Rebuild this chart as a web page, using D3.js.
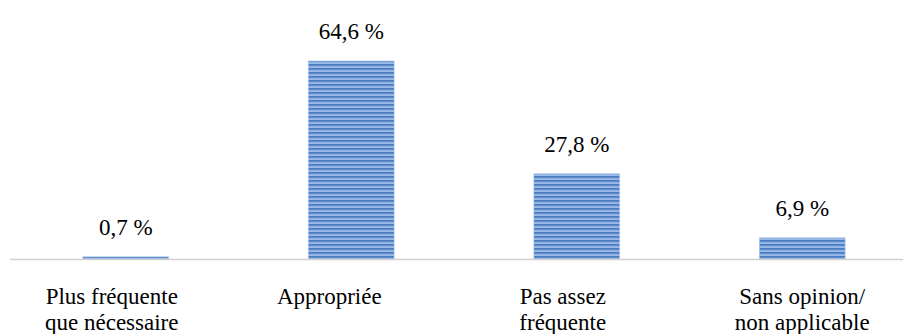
<!DOCTYPE html>
<html>
<head>
    <meta charset="utf-8">
    <style>
        body { margin: 0; background: white; }
    </style>
    <script src="https://d3js.org/d3.v7.min.js"></script>
</head>
<body>
<svg id="chart" width="903" height="334"></svg>
<script>
    // data
    var categories = ["Plus fréquente|que nécessaire", "Appropriée", "Pas assez|fréquente", "Sans opinion/|non applicable"];
    var values = [0.7, 64.6, 27.8, 6.9];
    var valueLabels = ["0,7 %", "64,6 %", "27,8 %", "6,9 %"];

    // layout: the category labels sit a bit left of their bars in the original
    var catShift = [-14, -22, -14, 0];

    var serif = "'Liberation Serif', 'DejaVu Serif', serif";
    var svg = d3.select("#chart");

    // striped fill like the original
    var defs = svg.append("defs");
    var pat = defs.append("pattern")
        .attr("id", "stripes")
        .attr("patternUnits", "userSpaceOnUse")
        .attr("width", 8).attr("height", 4);
    pat.append("rect").attr("width", 8).attr("height", 4).attr("fill", "#6f9bd8");
    pat.append("rect").attr("y", 0).attr("width", 8).attr("height", 1.5).attr("fill", "#4a7cc0");
    pat.append("rect").attr("y", 2.5).attr("width", 8).attr("height", 1.2).attr("fill", "#aecaee");

    var x = d3.scaleBand()
        .domain(categories)
        .range([13, 915])
        .paddingInner(0.62)
        .paddingOuter(0.31);

    var y = d3.scaleLinear()
        .domain([0, 70])
        .range([259, 44.5]);

    // bars
    svg.selectAll(".bar")
        .data(values)
        .join("rect")
        .attr("class", "bar")
        .attr("x", (d, i) => x(categories[i]))
        .attr("width", x.bandwidth())
        .attr("y", d => y(d))
        .attr("height", d => y(0) - y(d))
        .attr("fill", "url(#stripes)")
        .attr("stroke", "#9dbbe6")
        .attr("stroke-width", 0.6);

    // axis line
    svg.append("line")
        .attr("x1", 10).attr("x2", 903)
        .attr("y1", y(0) + 0.5).attr("y2", y(0) + 0.5)
        .attr("stroke", "#d0d0d0")
        .attr("stroke-width", 1.5);

    // value labels
    svg.selectAll(".val")
        .data(values)
        .join("text")
        .attr("class", "val")
        .attr("x", (d, i) => x(categories[i]) + x.bandwidth() / 2)
        .attr("y", d => y(d) - 22)
        .attr("text-anchor", "middle")
        .style("font-family", serif)
        .style("font-size", "23px")
        .text((d, i) => valueLabels[i]);

    // category labels
    var cat = svg.selectAll(".cat")
        .data(categories)
        .join("text")
        .attr("class", "cat")
        .attr("text-anchor", "middle")
        .style("font-family", serif)
        .style("font-size", "23px");
    cat.each(function(c, i) {
        var lines = c.split("|");
        var cx = x(c) + x.bandwidth() / 2 + catShift[i];
        d3.select(this).selectAll("tspan")
            .data(lines)
            .join("tspan")
            .attr("x", cx)
            .attr("y", (l, j) => 304 + j * 26)
            .text(l => l);
    });
</script>
</body>
</html>
